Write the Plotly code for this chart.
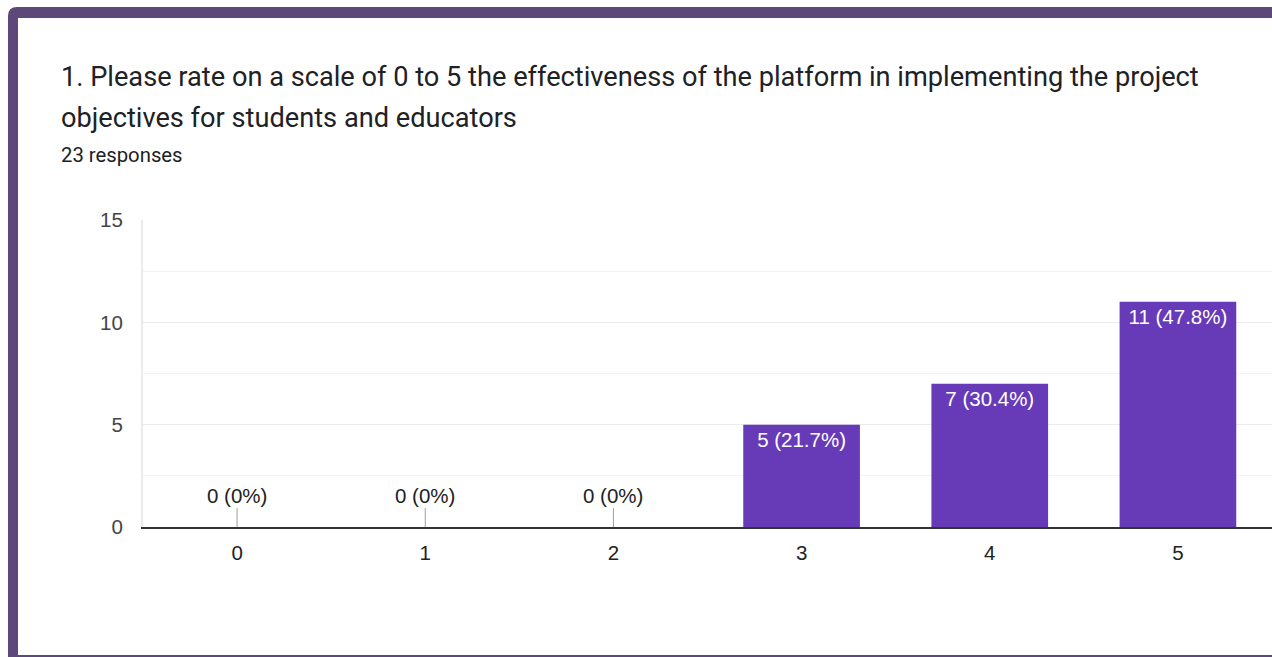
import plotly.graph_objects as go

# Survey results: rating of platform effectiveness
ratings = ["0", "1", "2", "3", "4", "5"]
counts = [0, 0, 0, 5, 7, 11]
total_responses = 23

title_line1 = "1. Please rate on a scale of 0 to 5 the effectiveness of the platform in implementing the project"
title_line2 = "objectives for students and educators"
subtitle = f"{total_responses} responses"

y_ticks = [0, 5, 10, 15]

BAR_COLOR = "#673ab7"
FRAME_COLOR = "#5c4879"
TEXT_COLOR = "#202124"
AXIS_FONT = "Liberation Sans, Arial, sans-serif"
AXIS_SIZE = 20.5
TITLE_SIZE = 27.2

W, H = 1272, 657
ML, MR, MT, MB = 143, 0, 220, 130
PW, PH = W - ML - MR, H - MT - MB


def px(x):
    return (x - ML) / PW


def py(y):
    return (H - MB - y) / PH


def label(c):
    pct = c / total_responses * 100
    return f"{c} ({pct:.1f}%)" if c else f"{c} (0%)"


labels = [label(c) for c in counts]

fig = go.Figure(
    go.Bar(
        x=ratings,
        y=counts,
        width=0.62,
        marker=dict(color=BAR_COLOR, line=dict(width=0)),
        text=labels,
        texttemplate="%{text}",
        textposition=["inside" if c else "none" for c in counts],
        insidetextanchor="end",
        textfont=dict(family=AXIS_FONT, size=AXIS_SIZE, color="white"),
        hoverinfo="skip",
    )
)

# Labels with a short stem for empty categories
for r, c, t in zip(ratings, counts, labels):
    if c == 0:
        fig.add_annotation(
            x=r, y=0, xref="x", yref="y", text=t,
            showarrow=True, arrowhead=0, arrowwidth=1, arrowcolor="#9e9e9e",
            ax=0, ay=-32, font=dict(family=AXIS_FONT, size=AXIS_SIZE, color="#222222"),
        )

# Title block
fig.add_annotation(x=px(59), y=py(77), xref="paper", yref="paper", text=title_line1,
                   showarrow=False, xanchor="left", yanchor="middle",
                   font=dict(family="Roboto", size=TITLE_SIZE, color=TEXT_COLOR))
fig.add_annotation(x=px(59), y=py(118), xref="paper", yref="paper", text=title_line2,
                   showarrow=False, xanchor="left", yanchor="middle",
                   font=dict(family="Roboto", size=TITLE_SIZE, color=TEXT_COLOR))
fig.add_annotation(x=px(59), y=py(155), xref="paper", yref="paper", text=subtitle,
                   showarrow=False, xanchor="left", yanchor="middle",
                   font=dict(family="Roboto", size=20.3, color=TEXT_COLOR))

# Card frame with a rounded top-left corner
frame_path = (
    f"M {px(8)},{py(657)} L {px(8)},{py(16)} "
    f"Q {px(8)},{py(7)} {px(17)},{py(7)} "
    f"L {px(1272)},{py(7)} L {px(1272)},{py(18)} "
    f"L {px(18)},{py(18)} L {px(18)},{py(657)} Z"
)
fig.add_shape(type="path", path=frame_path, xref="paper", yref="paper",
              fillcolor=FRAME_COLOR, line=dict(width=0), layer="above")
fig.add_shape(type="rect", xref="paper", yref="paper",
              x0=px(18), x1=px(1272), y0=py(657), y1=py(655),
              fillcolor=FRAME_COLOR, line=dict(width=0), layer="above")

fig.update_layout(
    width=W, height=H,
    margin=dict(l=ML, r=MR, t=MT, b=MB, pad=0),
    paper_bgcolor="white", plot_bgcolor="white",
    showlegend=False,
    bargap=0.38,
    xaxis=dict(
        range=[-0.5, 5.5], showgrid=False, zeroline=False,
        showline=True, linecolor="#333333", linewidth=2,
        ticks="outside", ticklen=6, tickcolor="rgba(0,0,0,0)",
        tickfont=dict(family=AXIS_FONT, size=AXIS_SIZE, color="#222222"),
        fixedrange=True,
    ),
    yaxis=dict(
        range=[0, 15], tickvals=y_ticks, showgrid=True, gridcolor="#ebebeb", gridwidth=1,
        zeroline=False, showline=True, linecolor="#ebebeb", linewidth=2,
        ticks="outside", ticklen=14, tickcolor="rgba(0,0,0,0)",
        minor=dict(dtick=2.5, showgrid=True, gridcolor="#f3f3f3", gridwidth=1),
        tickfont=dict(family=AXIS_FONT, size=AXIS_SIZE, color="#444444"),
        fixedrange=True,
    ),
)

fig.write_html("out.html", config={"displayModeBar": False})
